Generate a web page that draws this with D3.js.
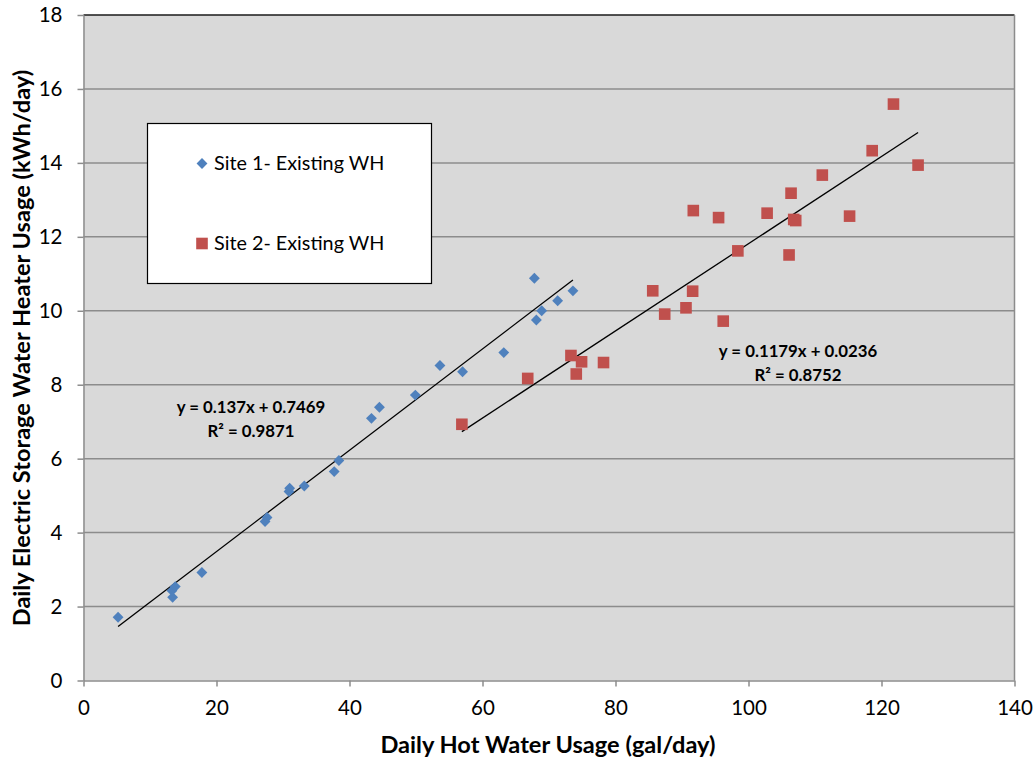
<!DOCTYPE html>
<html>
<head>
<meta charset="utf-8">
<script src="https://cdn.jsdelivr.net/npm/d3@7"></script>
<style>
  html, body { margin: 0; padding: 0; background: #fff; }
  svg { display: block; }
  text { font-family: Lato, "Open Sans", sans-serif; fill: #000; }
</style>
</head>
<body>
<svg id="chart" width="1035" height="759"></svg>
<script>
// Site 1 – existing water heater: daily hot water (gal/day) and electricity (kWh/day)
const site1Usage = [5.2, 13.4, 13.3, 13.8, 17.8, 27.3, 27.6, 30.9, 31.0, 33.2, 37.7, 38.4,
                    43.3, 44.5, 49.9, 53.6, 57.0, 63.2, 67.8, 68.1, 68.9, 71.3, 73.6];
const site1Energy = [1.71, 2.25, 2.43, 2.54, 2.92, 4.30, 4.41, 5.11, 5.20, 5.26, 5.65, 5.95,
                     7.09, 7.39, 7.72, 8.52, 8.35, 8.87, 10.88, 9.75, 10.00, 10.27, 10.54];

// Site 2 – existing water heater
const site2Usage = [56.9, 66.8, 73.3, 74.1, 74.9, 78.2, 85.6, 87.4, 90.6, 91.6, 96.2, 91.7,
                    95.5, 98.4, 102.8, 106.1, 106.4, 106.8, 107.1, 111.1, 115.2, 118.6, 121.8, 125.5];
const site2Energy = [6.93, 8.17, 8.79, 8.29, 8.62, 8.60, 10.54, 9.91, 10.08, 10.53, 9.72, 12.71,
                     12.52, 11.62, 12.64, 11.51, 13.18, 12.47, 12.44, 13.67, 12.56, 14.33, 15.59, 13.94];

// Linear trend lines (slope, intercept) and their R² values
const site1Fit = { slope: 0.137, intercept: 0.7469, r2: 0.9871 };
const site2Fit = { slope: 0.1179, intercept: 0.0236, r2: 0.8752 };

const seriesNames = ["Site 1- Existing WH", "Site 2- Existing WH"];
const xTicks = [0, 20, 40, 60, 80, 100, 120, 140];
const yTicks = [0, 2, 4, 6, 8, 10, 12, 14, 16, 18];
const xTitle = "Daily Hot Water Usage (gal/day)";
const yTitle = "Daily Electric Storage Water Heater Usage (kWh/day)";

const svg = d3.select("#chart");
const plot = { left: 83.5, right: 1014.5, top: 15, bottom: 680.5 };

const x = d3.scaleLinear().domain([0, 140]).range([plot.left, plot.right]);
const y = d3.scaleLinear().domain([0, 18]).range([plot.bottom, plot.top]);

const blue = "#4f81bd", red = "#c0504d";

// plot background
svg.append("rect")
  .attr("x", plot.left).attr("y", plot.top)
  .attr("width", plot.right - plot.left).attr("height", plot.bottom - plot.top)
  .attr("fill", "#d9d9d9");

// horizontal gridlines
svg.append("g").selectAll("line")
  .data(yTicks.filter(d => d > 0))
  .join("line")
  .attr("x1", plot.left).attr("x2", plot.right)
  .attr("y1", d => y(d)).attr("y2", d => y(d))
  .attr("stroke", d => d === 18 ? "#1a1a1a" : "#8c8c8c")
  .attr("stroke-width", 1.5);

// right border
svg.append("line")
  .attr("x1", plot.right).attr("x2", plot.right)
  .attr("y1", plot.top).attr("y2", plot.bottom)
  .attr("stroke", "#8c8c8c").attr("stroke-width", 1.5);

// axes
const xAxis = svg.append("g")
  .attr("transform", `translate(0,${plot.bottom})`)
  .call(d3.axisBottom(x).tickValues(xTicks).tickSize(6).tickSizeOuter(0).tickPadding(14));
const yAxis = svg.append("g")
  .attr("transform", `translate(${plot.left},0)`)
  .call(d3.axisLeft(y).tickValues(yTicks).tickSize(6).tickSizeOuter(0).tickPadding(15));

[xAxis, yAxis].forEach(g => {
  g.select(".domain").attr("stroke", "#8c8c8c").attr("stroke-width", 1.5);
  g.selectAll(".tick line").attr("stroke", "#8c8c8c").attr("stroke-width", 1.5);
  g.selectAll(".tick text")
    .style("font-family", "Lato, 'Open Sans', sans-serif")
    .style("font-size", "20.5px").attr("fill", "#000");
});

// trend lines over each series' x range
function trend(fit, xs) {
  const x0 = d3.min(xs), x1 = d3.max(xs);
  svg.append("line")
    .attr("x1", x(x0)).attr("y1", y(fit.slope * x0 + fit.intercept))
    .attr("x2", x(x1)).attr("y2", y(fit.slope * x1 + fit.intercept))
    .attr("stroke", "#000").attr("stroke-width", 1.3);
}
trend(site1Fit, site1Usage);
trend(site2Fit, site2Usage);

// data points
const diamond = d3.symbol().type(d3.symbolDiamond2).size(75);
const square = d3.symbol().type(d3.symbolSquare).size(135);

svg.append("g").selectAll("path")
  .data(site2Usage.map((v, i) => [v, site2Energy[i]]))
  .join("path")
  .attr("d", square)
  .attr("transform", d => `translate(${x(d[0])},${y(d[1])})`)
  .attr("fill", red);

svg.append("g").selectAll("path")
  .data(site1Usage.map((v, i) => [v, site1Energy[i]]))
  .join("path")
  .attr("d", diamond)
  .attr("transform", d => `translate(${x(d[0])},${y(d[1])})`)
  .attr("fill", blue);

// trend equations
function eqLabel(fit, cx, cy) {
  const g = svg.append("g").attr("font-weight", "bold").attr("font-size", "16.8px")
    .attr("text-anchor", "middle");
  g.append("text").attr("x", cx).attr("y", cy)
    .text(`y = ${fit.slope}x + ${fit.intercept}`);
  g.append("text").attr("x", cx).attr("y", cy + 24)
    .text(`R² = ${fit.r2}`);
}
eqLabel(site1Fit, 251, 413);
eqLabel(site2Fit, 798, 357);

// legend
const legend = svg.append("g");
legend.append("rect")
  .attr("x", 147.5).attr("y", 123.5).attr("width", 284).attr("height", 160)
  .attr("fill", "#fff").attr("stroke", "#000").attr("stroke-width", 1.2);
const legendRows = [
  { name: seriesNames[0], sym: diamond, color: blue, cy: 163.5 },
  { name: seriesNames[1], sym: square, color: red, cy: 243.5 }
];
legendRows.forEach(r => {
  legend.append("path")
    .attr("d", r.sym)
    .attr("transform", `translate(202,${r.cy})`)
    .attr("fill", r.color);
  legend.append("text")
    .attr("x", 214).attr("y", r.cy).attr("dy", "0.35em")
    .attr("font-size", "19.8px")
    .text(r.name);
});

// axis titles
svg.append("text")
  .attr("x", 548).attr("y", 753)
  .attr("text-anchor", "middle").attr("font-weight", "bold").attr("font-size", "23.6px")
  .text(xTitle);
svg.append("text")
  .attr("transform", "translate(30,348) rotate(-90)")
  .attr("text-anchor", "middle").attr("font-weight", "bold").attr("font-size", "23.6px")
  .text(yTitle);
</script>
</body>
</html>
